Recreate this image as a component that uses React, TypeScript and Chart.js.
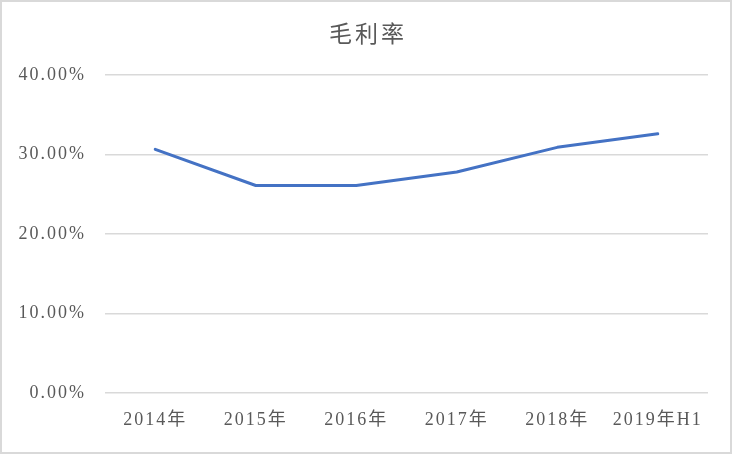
import React, { useEffect, useRef } from "react";
import { Chart, registerables } from "chart.js";

Chart.register(...registerables);

const categories = ["2014年", "2015年", "2016年", "2017年", "2018年", "2019年H1"];
const grossMargin = [30.65, 26.1, 26.1, 27.8, 30.9, 32.6];
const yTicks = [0, 10, 20, 30, 40];
const chartTitle = "毛利率";

const FONT = '"Liberation Serif", "Noto Sans CJK SC", serif';
const TITLE_FONT = '"Noto Sans CJK SC", sans-serif';

export default function App() {
  const ref = useRef<HTMLCanvasElement | null>(null);
  useEffect(() => {
    document.body.style.margin = "0";
    const canvas = ref.current!;
    const framePlugin = {
      id: "frame",
      beforeLayout(chart: any) {
        (chart.ctx as any).letterSpacing = "2px";
      },
      beforeDraw(chart: any) {
        const ctx = chart.ctx;
        ctx.save();
        ctx.fillStyle = "#ffffff";
        ctx.fillRect(0, 0, chart.width, chart.height);
        ctx.restore();
        (ctx as any).letterSpacing = "2px";
      },
      afterDraw(chart: any) {
        const ctx = chart.ctx;
        ctx.save();
        (ctx as any).letterSpacing = "3px";
        ctx.font = `23px ${TITLE_FONT}`;
        ctx.fillStyle = "#595959";
        ctx.textAlign = "center";
        ctx.textBaseline = "middle";
        ctx.fillText(chartTitle, chart.width / 2 + 2, 33);
        ctx.restore();
        ctx.save();
        ctx.strokeStyle = "#d9d9d9";
        ctx.lineWidth = 2;
        ctx.strokeRect(1, 1, chart.width - 2, chart.height - 2);
        ctx.restore();
      },
    };
    const chart = new Chart(canvas, {
      type: "line",
      data: {
        labels: categories,
        datasets: [
          {
            label: chartTitle,
            data: grossMargin,
            borderColor: "#4472c4",
            backgroundColor: "#4472c4",
            borderWidth: 3,
            pointRadius: 0,
            tension: 0,
            borderCapStyle: "round",
            borderJoinStyle: "round",
          },
        ],
      },
      options: {
        responsive: false,
        animation: false,
        layout: { padding: { left: 0, right: 24, top: 75, bottom: 0 } },
        plugins: {
          legend: { display: false },
          tooltip: { enabled: false },
          title: { display: false },
        },
        scales: {
          x: {
            offset: true,
            grid: { display: false, drawTicks: false },
            border: { display: false },
            ticks: {
              color: "#595959",
              font: { family: FONT, size: 18 },
              padding: 16,
              maxRotation: 0,
              autoSkip: false,
            },
            afterFit(axis: any) {
              axis.height = 61;
            },
          },
          y: {
            min: 0,
            max: 40,
            afterBuildTicks(axis: any) {
              axis.ticks = yTicks.map((v) => ({ value: v }));
            },
            grid: { color: "#d9d9d9", lineWidth: 1.5, drawTicks: false },
            border: { display: false },
            ticks: {
              color: "#595959",
              font: { family: FONT, size: 18 },
              padding: 19,
              callback: (v: any) => Number(v).toFixed(2) + "%",
            },
            afterFit(axis: any) {
              axis.width = 105;
            },
          },
        },
      },
      plugins: [framePlugin],
    });
    return () => chart.destroy();
  }, []);
  return (
    <div style={{ width: 732, height: 454 }}>
      <canvas ref={ref} width={732} height={454} style={{ display: "block" }} />
    </div>
  );
}
